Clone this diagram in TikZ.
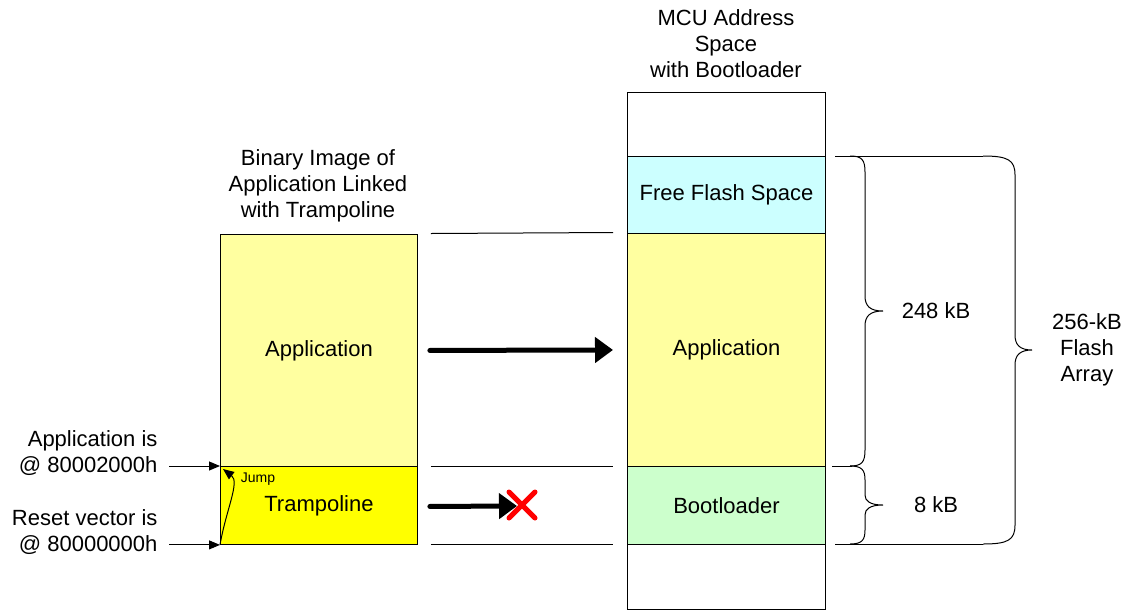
\documentclass[tikz,border=0pt]{standalone}
\usepackage{fontspec}
\setmainfont{Liberation Sans}
\usetikzlibrary{arrows.meta}
\definecolor{appyellow}{RGB}{255,255,160}
\definecolor{trampyellow}{RGB}{255,255,0}
\definecolor{freecyan}{RGB}{204,255,255}
\definecolor{bootgreen}{RGB}{204,255,204}
\tikzset{
  region/.style={draw=black, line width=0.9pt, anchor=north west, inner sep=0pt,
    minimum width=#1, font=\fontsize{22}{26}\selectfont},
  region/.default=197pt,
  title/.style={align=center, font=\fontsize{22}{26}\selectfont},
  addr/.style={align=right, anchor=east, font=\fontsize{22}{26}\selectfont},
  guide/.style={line width=1pt},
  bigarrow/.style={line width=5pt, line cap=round, -{Triangle[length=18pt,width=25pt]}},
  ptr/.style={line width=1pt, -{Triangle[length=11pt,width=9pt]}},
  brace/.style={line width=1pt},
  sizelabel/.style={font=\fontsize{22}{26}\selectfont}
}
\begin{document}
\begin{tikzpicture}[x=1pt,y=1pt]
\useasboundingbox (0,0) rectangle (1139,-611);

% left column: linked binary image
\node[region, fill=appyellow, minimum height=232pt] (lapp) at (220,-234) {Application};
\node[region, fill=trampyellow, minimum height=78pt] (tramp) at (220,-466) {Trampoline};
\node[title] (ltitle) at (318,-186) {Binary Image of\\Application Linked\\with Trampoline};

% right column: MCU address space
\node[region=198pt, fill=white, minimum height=517pt] (mcu) at (627,-92) {};
\node[region=198pt, fill=freecyan, minimum height=77pt] (free) at (627,-156) {Free Flash Space};
\node[region=198pt, fill=appyellow, minimum height=233pt] (rapp) at (627,-233) {Application};
\node[region=198pt, fill=bootgreen, minimum height=78pt] (boot) at (627,-466) {Bootloader};
\node[title] (rtitle) at (726,-44) {MCU Address\\Space\\with Bootloader};

% guide lines between the columns
\draw[guide] ([xshift=13pt,yshift=0.5pt]lapp.north east) -- ([xshift=-14pt,yshift=0.5pt]rapp.north west);
\draw[guide] ([xshift=13pt]lapp.south east) -- ([xshift=-14pt]rapp.south west);
\draw[guide] ([xshift=13pt]tramp.south east) -- ([xshift=-14pt]boot.south west);

% image transfer arrows
\coordinate (blocked) at (517,-506);
\draw[bigarrow] ([xshift=12pt]lapp.east) -- ([xshift=-14pt]rapp.west);
\draw[bigarrow] ([xshift=12pt,yshift=-1pt]tramp.east) -- (blocked);
\draw[red, line width=5pt, line cap=round] (509,-492) -- (535,-518) (509,-518) -- (535,-492);

% address annotations
\node[addr] (appaddr) at (161,-453) {Application is\\@ 80002000h};
\node[addr] (rstaddr) at (161,-532) {Reset vector is\\@ 80000000h};
\draw[ptr] ([xshift=8pt]appaddr.east |- tramp.north west) -- (tramp.north west);
\draw[ptr] ([xshift=8pt]rstaddr.east |- tramp.south west) -- (tramp.south west);
\draw[ptr] (tramp.south west) .. controls (226,-510) and (240,-482) .. (223,-469);
\node[font=\fontsize{14}{16}\selectfont] (jump) at (258,-479) {Jump};

% size braces
\draw[guide] (835,-156) -- (983,-156);
\draw[guide] (835,-544) -- (983,-544);
\draw[guide] (832,-466) -- (852,-466);
\draw[brace] (850,-156) .. controls (862,-156) and (865,-160) .. (865,-172) -- (865,-296)
  .. controls (865,-306) and (870,-311) .. (883,-311)
  .. controls (870,-311) and (865,-316) .. (865,-326) -- (865,-450)
  .. controls (865,-462) and (862,-466) .. (850,-466);
\draw[brace] (850,-466) .. controls (862,-466) and (865,-470) .. (865,-480) -- (865,-495)
  .. controls (865,-501) and (870,-505) .. (883,-505)
  .. controls (870,-505) and (865,-509) .. (865,-515) -- (865,-530)
  .. controls (865,-540) and (862,-544) .. (850,-544);
\draw[brace] (983,-156) .. controls (1008,-156) and (1015,-160) .. (1015,-175) -- (1015,-335)
  .. controls (1015,-345) and (1020,-350) .. (1032,-350)
  .. controls (1020,-350) and (1015,-355) .. (1015,-365) -- (1015,-525)
  .. controls (1015,-540) and (1008,-544) .. (983,-544);
\node[sizelabel] (s248) at (936,-311) {248 kB};
\node[sizelabel] (s8) at (936,-505) {8 kB};
\node[title] (s256) at (1087,-350) {256-kB\\Flash\\Array};
\end{tikzpicture}
\end{document}
